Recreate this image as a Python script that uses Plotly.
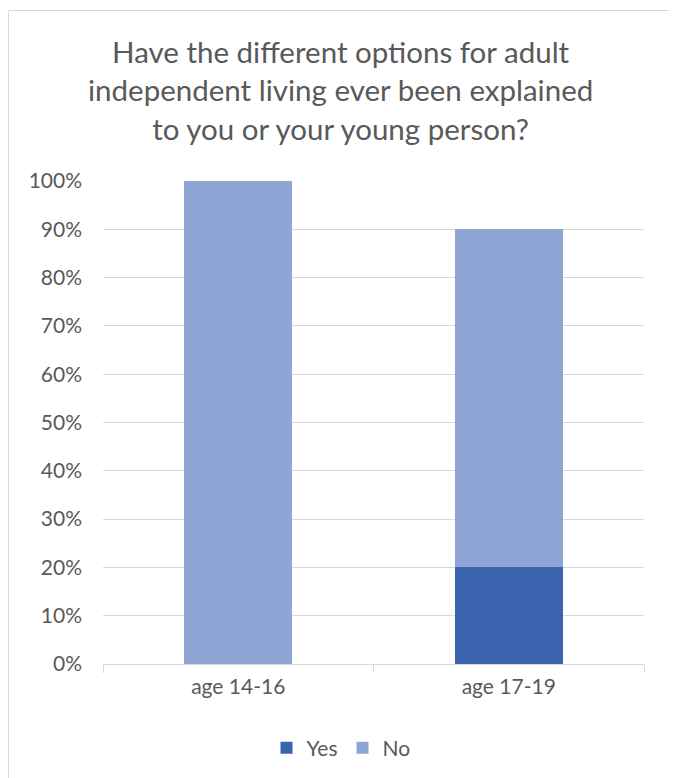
import plotly.graph_objects as go

categories = ["age 14-16", "age 17-19"]
yes_values = [0.0, 0.20]
no_values = [1.00, 0.70]
tick_vals = [0, 0.1, 0.2, 0.3, 0.4, 0.5, 0.6, 0.7, 0.8, 0.9, 1.0]
tick_text = ["0%", "10%", "20%", "30%", "40%", "50%", "60%", "70%", "80%", "90%", "100%"]
title_text = "Have the different options for adult<br>independent living ever been explained<br>to you or your young person?"

# page has an 8px body margin, so the figure is drawn 8px in from the window edge
OFF = 8
W, H = 677 - OFF, 778 - OFF
ml, mr, mt, mb = 103 - OFF, W - (644 - OFF), 181 - OFF, H - (664 - OFF)
pw, ph = W - ml - mr, H - mt - mb

def px_x(x):
    return (x - OFF - ml) / pw

def px_y(y):
    return (H - mb - (y - OFF)) / ph

font_family = "Lato, Carlito, 'Open Sans', sans-serif"
text_color = "#595959"

fig = go.Figure()
fig.add_trace(go.Bar(name="Yes", x=categories, y=yes_values, marker=dict(color="#3A64AD", line=dict(width=0))))
fig.add_trace(go.Bar(name="No", x=categories, y=no_values, marker=dict(color="#8FA5D6", line=dict(width=0))))

fig.update_layout(
    width=W, height=H,
    barmode="stack",
    bargap=0.6,
    margin=dict(l=ml, r=mr, t=mt, b=mb, autoexpand=False),
    paper_bgcolor="white",
    plot_bgcolor="white",
    font=dict(family=font_family, color=text_color, size=20),
    showlegend=True,
    legend=dict(orientation="h", x=px_x(341), xanchor="center", y=px_y(748), yanchor="middle",
                font=dict(size=21, color=text_color), traceorder="normal",
                itemwidth=30),
    xaxis=dict(showgrid=False, showline=True, linecolor="#d9d9d9", linewidth=1,
               ticks="outside", tickson="boundaries", ticklen=8, tickcolor="#d9d9d9",
               ticklabelstandoff=4,
               tickfont=dict(size=21, color=text_color)),
    yaxis=dict(range=[0, 1.0], tickvals=tick_vals, ticktext=tick_text, showgrid=True,
               gridcolor="#d9d9d9", gridwidth=1, zeroline=False, showline=False,
               ticks="", ticklabelstandoff=20, tickfont=dict(size=21, color=text_color)),
)

fig.add_annotation(text=title_text, xref="paper", yref="paper", x=px_x(340), y=px_y(90),
                   xanchor="center", yanchor="middle", showarrow=False,
                   font=dict(size=29.5, color=text_color, family=font_family))

fig.add_shape(type="rect", xref="paper", yref="paper",
              x0=px_x(8.5), x1=px_x(670.5), y0=px_y(800), y1=px_y(10.5),
              line=dict(color="#d9d9d9", width=1), fillcolor="rgba(0,0,0,0)", layer="below")

fig.write_html("out.html")
